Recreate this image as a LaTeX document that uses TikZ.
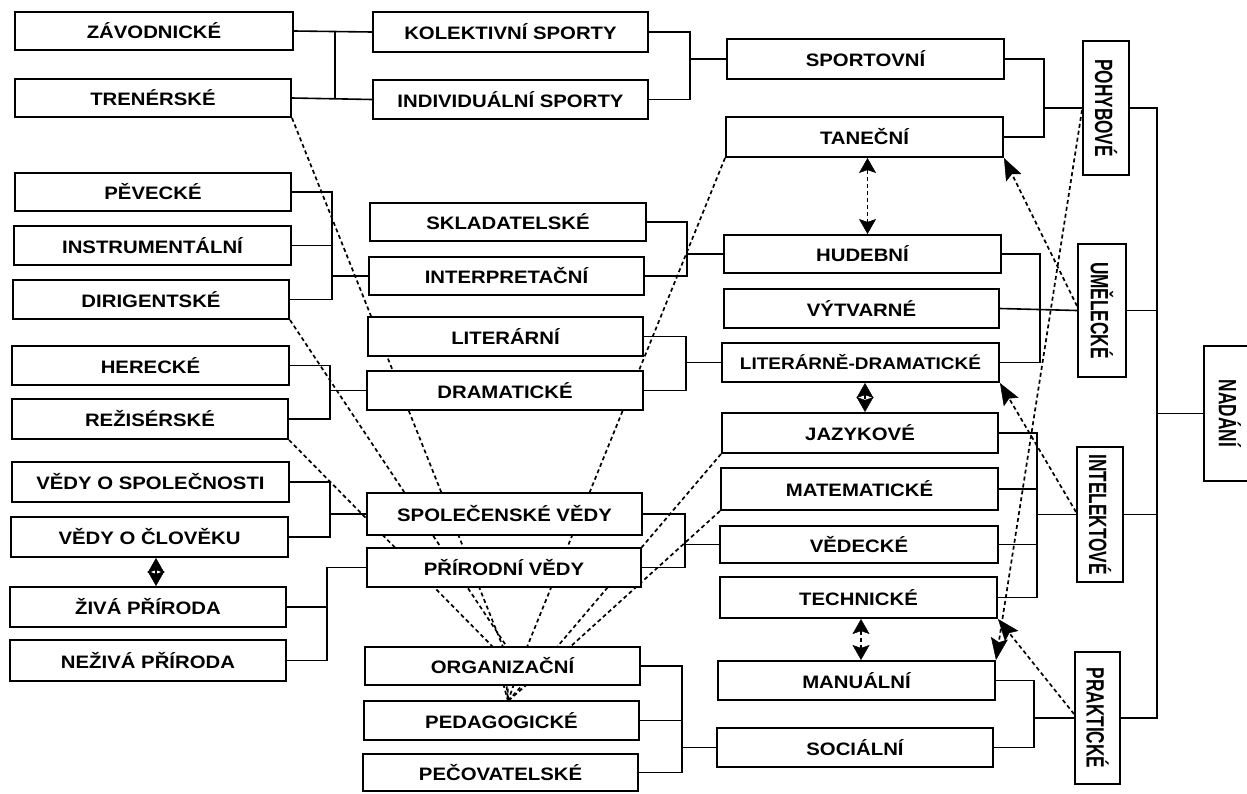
\documentclass[tikz,border=0pt]{standalone}
\usepackage{fontspec}
\setmainfont{Liberation Sans}
\newfontfamily\wfont{Liberation Sans}[FakeStretch=1.13]
\newfontfamily\nfont{Liberation Sans}[FakeStretch=0.69]
\usetikzlibrary{arrows.meta,calc}
\newcommand\mkbox[6]{\node[box, minimum width={(#4-#2)*1pt}, minimum height={(#5-#3)*1pt}] (#1) at ({(#2+#4)/2},{(#3+#5)/2}) {#6};}
\newcommand\vlab{\nfont\bfseries\fontsize{25}{25}\selectfont}
\tikzset{
  box/.style={draw, line width=2pt, fill=white, inner sep=0pt, font=\wfont\bfseries\fontsize{18}{18}\selectfont},
  wire/.style={line width=1.6pt},
  dot/.style={line width=1.7pt, dash pattern=on 4pt off 3pt},
  tipA/.tip={Stealth[length=22pt,width=17pt,inset=4pt,line width=0.5pt]},
  tipB/.tip={Stealth[length=15pt,width=17pt,inset=3pt,line width=0.5pt]},
  arr/.style={dot, -tipA},
  darr/.style={dot, tipB-tipB},
}
\begin{document}
\begin{tikzpicture}[x=1pt,y=-1pt]
\useasboundingbox (0,0) rectangle (1247,793);
\clip (0,0) rectangle (1247,793);
% junction coordinates
\coordinate (x1) at (335,0);
\coordinate (x2) at (690,0);
\coordinate (x3) at (332,0);
\coordinate (x4) at (330,0);
\coordinate (x5) at (330,0);
\coordinate (x6) at (327,0);
\coordinate (x7) at (687,0);
\coordinate (x8) at (686,0);
\coordinate (x9) at (685,0);
\coordinate (x10) at (682,0);
\coordinate (x11) at (1044,0);
\coordinate (x12) at (1040,0);
\coordinate (x13) at (1037,0);
\coordinate (x14) at (1034,0);
\coordinate (x15) at (1157,0);
% bend points on top of ORGANIZACNI
\coordinate (o1) at (493,647);
\coordinate (o2) at (503,647);
\coordinate (o3) at (507,647);
\coordinate (o4) at (527,647);
\coordinate (o5) at (557,647);
\coordinate (o6) at (570,647);
\coordinate (P) at (508,701);

% column 1
\mkbox{zav}{15}{12}{293}{50}{ZÁVODNICKÉ}
\mkbox{tren}{15}{79}{291}{117}{TRENÉRSKÉ}
\mkbox{pev}{15}{173}{291}{211}{PĚVECKÉ}
\mkbox{instr}{14}{226}{291}{265}{INSTRUMENTÁLNÍ}
\mkbox{dirig}{13}{280}{289}{319}{DIRIGENTSKÉ}
\mkbox{herec}{12}{346}{289}{385}{HERECKÉ}
\mkbox{rezis}{12}{399}{288}{439}{REŽISÉRSKÉ}
\mkbox{vspol}{12}{462}{289}{502}{VĚDY O SPOLEČNOSTI}
\mkbox{vclov}{11}{517}{288}{557}{VĚDY O ČLOVĚKU}
\mkbox{ziva}{10}{587}{286}{627}{ŽIVÁ PŘÍRODA}
\mkbox{neziva}{10}{640}{286}{681}{NEŽIVÁ PŘÍRODA}
% column 3 (placed before the dashed lines that start from it)
\mkbox{sport}{727}{39}{1004}{79}{SPORTOVNÍ}
\mkbox{tanec}{726}{117}{1003}{157}{TANEČNÍ}
\mkbox{hudeb}{724}{235}{1001}{273}{HUDEBNÍ}
\mkbox{vytv}{724}{289}{999}{328}{VÝTVARNÉ}
\mkbox{litdr}{722}{343}{999}{382}{\fontsize{16.8}{16.8}\selectfont LITERÁRNĚ-DRAMATICKÉ}
\mkbox{jazyk}{722}{413}{998}{453}{JAZYKOVÉ}
\mkbox{matem}{721}{468}{998}{510}{MATEMATICKÉ}
\mkbox{vedec}{720}{526}{998}{563}{VĚDECKÉ}
\mkbox{techn}{720}{577}{997}{618}{TECHNICKÉ}
\mkbox{manua}{718}{661}{995}{700}{MANUÁLNÍ}
\mkbox{social}{717}{728}{993}{767}{SOCIÁLNÍ}

% dashed lines converging (drawn under the column 2 boxes)
\draw[dot] (tren.south east) -- (o2) -- (P);
\draw[dot] (dirig.south east) -- (o3) -- (P);
\draw[dot] (rezis.south east) -- (o1) -- (P);
\draw[dot] (tanec.south west) -- (o4) -- (P);
\draw[dot] (jazyk.south west) -- (o5) -- (P);
\draw[dot] (matem.south west) -- (o6) -- (P);

% column 2
\mkbox{kolek}{373}{12}{648}{52}{KOLEKTIVNÍ SPORTY}
\mkbox{indiv}{373}{80}{648}{119}{INDIVIDUÁLNÍ SPORTY}
\mkbox{sklad}{370}{203}{646}{241}{SKLADATELSKÉ}
\mkbox{interp}{369}{257}{644}{295}{INTERPRETAČNÍ}
\mkbox{liter}{368}{317}{643}{356}{LITERÁRNÍ}
\mkbox{drama}{367}{371}{643}{410}{DRAMATICKÉ}
\mkbox{spolv}{367}{493}{642}{535}{SPOLEČENSKÉ VĚDY}
\mkbox{prirv}{367}{548}{641}{587}{PŘÍRODNÍ VĚDY}
\mkbox{organ}{365}{647}{640}{685}{ORGANIZAČNÍ}
\mkbox{pedag}{364}{701}{639}{740}{PEDAGOGICKÉ}
\mkbox{pecov}{363}{754}{638}{791}{PEČOVATELSKÉ}
% column 4
\mkbox{pohyb}{1083}{41}{1129}{175}{\rotatebox{-90}{\vlab POHYBOVÉ}}
\mkbox{umel}{1078}{244}{1126}{377}{\rotatebox{-90}{\vlab UMĚLECKÉ}}
\mkbox{intel}{1077}{447}{1123}{582}{\rotatebox{-90}{\vlab INTELEKTOVÉ}}
\mkbox{prakt}{1075}{652}{1120}{784}{\rotatebox{-90}{\vlab PRAKTICKÉ}}
\mkbox{nadani}{1204}{346}{1256}{481}{\rotatebox{-90}{\vlab NADÁNÍ}}

% solid connectors, column 1 -> 2
\draw[wire] (zav.east) -- (kolek.west);
\draw[wire] (tren.east) -- (indiv.west);
\draw[wire] (zav.east -| x1) -- (tren.east -| x1);
\draw[wire] (pev.east) -- (pev.east -| x3) -- (dirig.east -| x3) -- (dirig.east);
\draw[wire] (instr.east) -- (instr.east -| x3);
\draw[wire] (interp.west -| x3) -- (interp.west);
\draw[wire] (herec.east) -- (herec.east -| x4) -- (rezis.east -| x4) -- (rezis.east);
\draw[wire] (drama.west -| x4) -- (drama.west);
\draw[wire] (vspol.east) -- (vspol.east -| x5) -- (vclov.east -| x5) -- (vclov.east);
\draw[wire] (spolv.west -| x5) -- (spolv.west);
\draw[wire] (prirv.west) -- (prirv.west -| x6) -- (neziva.east -| x6) -- (neziva.east);
\draw[wire] (ziva.east) -- (ziva.east -| x6);
% column 2 -> 3
\draw[wire] (kolek.east) -- (kolek.east -| x2) -- (indiv.east -| x2) -- (indiv.east);
\draw[wire] (sport.west -| x2) -- (sport.west);
\draw[wire] (sklad.east) -- (sklad.east -| x7) -- (interp.east -| x7) -- (interp.east);
\draw[wire] (hudeb.west -| x7) -- (hudeb.west);
\draw[wire] (liter.east) -- (liter.east -| x8) -- (drama.east -| x8) -- (drama.east);
\draw[wire] (litdr.west -| x8) -- (litdr.west);
\draw[wire] (spolv.east) -- (spolv.east -| x9) -- (prirv.east -| x9) -- (prirv.east);
\draw[wire] (vedec.west -| x9) -- (vedec.west);
\draw[wire] (organ.east) -- (organ.east -| x10) -- (pecov.east -| x10) -- (pecov.east);
\draw[wire] (pedag.east) -- (pedag.east -| x10);
\draw[wire] (social.west -| x10) -- (social.west);
% column 3 -> 4
\draw[wire] (sport.east) -- (sport.east -| x11) -- (tanec.east -| x11) -- (tanec.east);
\draw[wire] (pohyb.west -| x11) -- (pohyb.west);
\draw[wire] (hudeb.east) -- (hudeb.east -| x12) -- (litdr.east -| x12) -- (litdr.east);
\draw[wire] (vytv.east) -- (umel.west);
\draw[wire] (jazyk.east) -- (jazyk.east -| x13) -- (techn.east -| x13) -- (techn.east);
\draw[wire] (matem.east) -- (matem.east -| x13);
\draw[wire] (vedec.east) -- (vedec.east -| x13);
\draw[wire] (intel.west -| x13) -- (intel.west);
\draw[wire] (manua.east) -- (manua.east -| x14) -- (social.east -| x14) -- (social.east);
\draw[wire] (prakt.west -| x14) -- (prakt.west);
% column 4 -> NADANI
\draw[wire] (pohyb.east) -- (pohyb.east -| x15) -- (prakt.east -| x15) -- (prakt.east);
\draw[wire] (umel.east) -- (umel.east -| x15);
\draw[wire] (intel.east) -- (intel.east -| x15);
\draw[wire] (nadani.west -| x15) -- (nadani.west);

% dashed arrows
\draw[darr] ([xshift=3pt]tanec.south) -- ([xshift=5pt]hudeb.north);
\draw[darr] ([xshift=4.5pt]litdr.south) -- ([xshift=5pt]jazyk.north);
\draw[darr] ([xshift=2.5pt]techn.south) -- ([xshift=4.5pt]manua.north);
\draw[darr] ([xshift=6.5pt]vclov.south) -- ([xshift=8pt]ziva.north);
\draw[arr] ([yshift=4.5pt]umel.west) -- (tanec.south east);
\draw[arr] ([yshift=-2pt]pohyb.west) -- (manua.north east);
\draw[arr] ([yshift=2.5pt]intel.west) -- (litdr.south east);
\draw[arr] ([yshift=4pt]prakt.west) -- (techn.south east);
\end{tikzpicture}
\end{document}
